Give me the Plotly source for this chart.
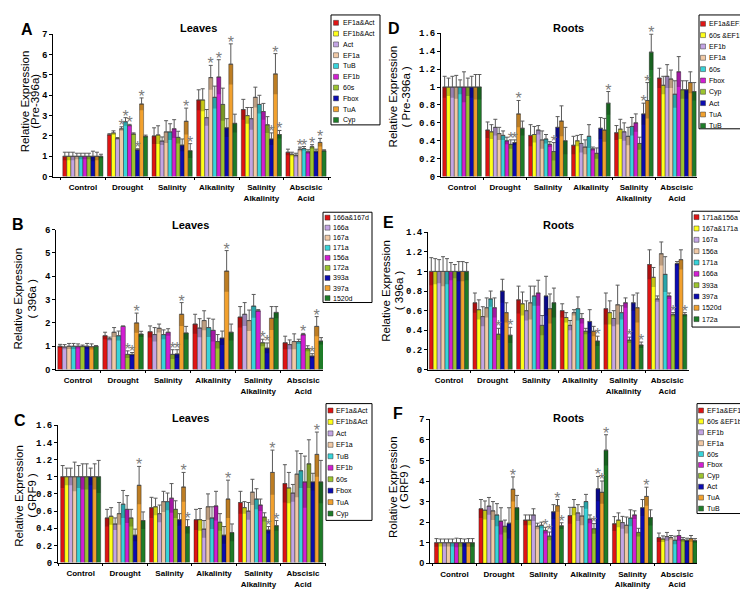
import plotly.graph_objects as go

W, H = 748, 592

conditions = ["Control", "Drought", "Salinity", "Alkalinity",
              "Salinity<br>Alkalinity", "Abscisic<br>Acid"]

# colours
RED = "#e01414"
YEL = "#ffff1a"
LAV = "#c3a5e4"
TAN = "#f1c9a5"
CYA = "#38d4da"
MAG = "#d21ed2"
YGR = "#9cc42e"
BLU = "#0c0cb0"
ORA = "#f2a12e"
DGR = "#1e7d28"

# ---------------- Panel A : Leaves, Pre-396a ----------------
A_names = ["EF1a&Act", "EF1b&Act", "Act", "EF1a", "TuB", "EF1b", "60s", "Fbox", "TuA", "Cyp"]
A_colors = [RED, YEL, LAV, TAN, CYA, MAG, YGR, BLU, ORA, DGR]
A_vals = [
    [1.00, 1.00, 1.00, 1.00, 1.00, 1.00, 1.00, 1.00, 1.00, 1.00],
    [2.06, 2.15, 1.87, 2.35, 2.70, 2.52, 2.10, 1.32, 3.57, 1.98],
    [2.00, 2.05, 1.75, 2.20, 2.20, 2.35, 1.93, 1.55, 2.72, 1.27],
    [3.77, 3.77, 2.90, 4.87, 3.90, 4.90, 3.55, 2.40, 5.53, 2.62],
    [3.30, 3.00, 2.85, 3.90, 3.55, 3.20, 2.55, 1.85, 5.05, 2.07],
    [1.20, 1.10, 1.05, 1.35, 1.38, 1.22, 1.47, 1.25, 1.68, 1.27],
]
A_errs = [
    [0.20, 0.20, 0.20, 0.15, 0.15, 0.15, 0.15, 0.25, 0.20, 0.10],
    [0.05, 0.10, 0.05, 0.10, 0.20, 0.05, 0.05, 0.05, 0.30, 0.06],
    [0.40, 0.45, 0.20, 0.55, 0.40, 0.45, 0.30, 0.30, 0.65, 0.35],
    [0.50, 0.55, 0.40, 0.60, 0.55, 0.85, 0.80, 0.45, 1.00, 0.45],
    [0.50, 0.40, 0.55, 0.50, 0.45, 0.40, 0.40, 0.30, 1.00, 0.20],
    [0.15, 0.10, 0.10, 0.10, 0.10, 0.10, 0.10, 0.10, 0.20, 0.05],
]
A_stars = [[], [3, 4, 5, 7, 8], [8, 9], [3, 5, 8], [7, 8, 9], [3, 4, 6, 8]]

# ---------------- Panel D : Roots, Pre-396a ----------------
D_names = ["EF1a&EF1b", "60s &EF1b", "EF1b", "EF1a", "60s", "Fbox", "Cyp", "Act", "TuA", "TuB"]
D_colors = [RED, YEL, LAV, TAN, CYA, MAG, YGR, BLU, ORA, DGR]
D_vals = [
    [1.00, 1.00, 1.00, 1.00, 1.00, 1.00, 1.00, 1.00, 1.00, 1.00],
    [0.52, 0.50, 0.55, 0.48, 0.46, 0.40, 0.36, 0.38, 0.70, 0.54],
    [0.46, 0.47, 0.52, 0.41, 0.42, 0.36, 0.28, 0.55, 0.62, 0.40],
    [0.35, 0.40, 0.37, 0.33, 0.45, 0.31, 0.26, 0.54, 0.52, 0.82],
    [0.49, 0.53, 0.50, 0.45, 0.56, 0.60, 0.37, 0.70, 0.85, 1.39],
    [1.10, 1.02, 1.12, 1.09, 0.92, 1.17, 0.97, 0.97, 1.05, 0.95],
]
D_errs = [
    [0.12, 0.10, 0.12, 0.13, 0.08, 0.17, 0.10, 0.12, 0.14, 0.14],
    [0.09, 0.08, 0.09, 0.07, 0.05, 0.04, 0.05, 0.03, 0.15, 0.08],
    [0.12, 0.09, 0.05, 0.10, 0.05, 0.03, 0.10, 0.12, 0.17, 0.15],
    [0.10, 0.06, 0.10, 0.08, 0.13, 0.02, 0.06, 0.12, 0.13, 0.13],
    [0.08, 0.11, 0.10, 0.10, 0.10, 0.10, 0.07, 0.12, 0.20, 0.20],
    [0.11, 0.10, 0.13, 0.10, 0.15, 0.17, 0.10, 0.10, 0.12, 0.10],
]
D_stars = [[], [6, 7, 8], [6], [9], [7, 8, 9], []]

# ---------------- Panel B : Leaves, 396a ----------------
B_names = ["166a&167d", "166a", "167a", "171a", "156a", "172a", "393a", "397a", "1520d"]
B_colors = [RED, LAV, TAN, CYA, MAG, YGR, BLU, ORA, DGR]
B_vals = [
    [1.00, 0.97, 1.00, 1.00, 1.00, 1.00, 1.00, 0.98, 1.00],
    [1.45, 1.32, 1.60, 1.45, 1.85, 0.65, 0.65, 2.00, 1.52],
    [1.62, 1.50, 1.77, 1.50, 1.60, 0.65, 0.67, 2.37, 1.57],
    [1.95, 1.78, 2.10, 1.80, 1.68, 1.20, 1.35, 4.22, 1.60],
    [2.25, 2.37, 2.10, 2.72, 2.52, 1.15, 0.92, 2.20, 2.45],
    [1.15, 1.07, 1.20, 1.20, 1.50, 0.90, 0.58, 1.85, 1.22],
]
B_errs = [
    [0.08, 0.10, 0.12, 0.12, 0.10, 0.05, 0.12, 0.12, 0.03],
    [0.15, 0.07, 0.20, 0.20, 0.02, 0.15, 0.08, 0.42, 0.12],
    [0.25, 0.30, 0.18, 0.20, 0.15, 0.20, 0.18, 0.50, 0.28],
    [0.42, 0.40, 0.42, 0.40, 0.48, 0.30, 0.30, 0.88, 0.35],
    [0.45, 0.50, 0.45, 0.50, 0.05, 0.15, 0.22, 0.50, 0.25],
    [0.28, 0.20, 0.33, 0.10, 0.05, 0.12, 0.10, 0.42, 0.15],
]
B_stars = [[], [5, 6, 7], [5, 6, 7], [7], [5, 6], [4, 6, 7]]

# ---------------- Panel E : Roots, 396a ----------------
E_names = ["171a&156a", "167a&171a", "167a", "156a", "171a", "166a", "393a", "397a", "1520d", "172a"]
E_colors = [RED, YEL, LAV, TAN, CYA, MAG, YGR, BLU, ORA, DGR]
E_vals = [
    [1.00, 1.00, 1.00, 1.00, 1.00, 1.00, 1.00, 1.00, 1.00, 1.00],
    [0.68, 0.61, 0.54, 0.63, 0.72, 0.63, 0.36, 0.80, 0.58, 0.35],
    [0.71, 0.67, 0.60, 0.68, 0.75, 0.78, 0.45, 0.75, 0.62, 0.68],
    [0.60, 0.53, 0.45, 0.58, 0.62, 0.52, 0.39, 0.49, 0.39, 0.29],
    [0.62, 0.58, 0.52, 0.66, 0.58, 0.68, 0.30, 0.68, 0.63, 0.25],
    [1.07, 0.94, 0.72, 1.18, 0.97, 0.75, 0.56, 1.08, 1.12, 0.56],
]
E_errs = [
    [0.14, 0.13, 0.12, 0.15, 0.13, 0.09, 0.07, 0.10, 0.10, 0.09],
    [0.10, 0.10, 0.10, 0.10, 0.08, 0.10, 0.06, 0.12, 0.10, 0.08],
    [0.14, 0.12, 0.10, 0.17, 0.10, 0.13, 0.10, 0.20, 0.15, 0.15],
    [0.07, 0.05, 0.05, 0.03, 0.12, 0.05, 0.03, 0.12, 0.05, 0.05],
    [0.16, 0.12, 0.08, 0.20, 0.07, 0.05, 0.03, 0.08, 0.15, 0.03],
    [0.15, 0.10, 0.03, 0.12, 0.18, 0.03, 0.02, 0.02, 0.10, 0.02],
]
E_stars = [[], [6, 9], [], [9], [6, 9], [6, 9]]

# ---------------- Panel C : Leaves, GRF9 ----------------
C_names = ["EF1a&Act", "EF1b&Act", "Act", "EF1a", "TuB", "EF1b", "60s", "Fbox", "TuA", "Cyp"]
C_colors = [RED, YEL, LAV, TAN, CYA, MAG, YGR, BLU, ORA, DGR]
C_vals = [
    [1.00, 1.00, 1.00, 1.00, 1.00, 1.00, 1.00, 1.00, 1.00, 1.00],
    [0.52, 0.54, 0.45, 0.57, 0.68, 0.62, 0.52, 0.32, 0.90, 0.49],
    [0.64, 0.65, 0.57, 0.71, 0.71, 0.75, 0.62, 0.50, 0.88, 0.42],
    [0.50, 0.50, 0.39, 0.65, 0.52, 0.66, 0.47, 0.32, 0.74, 0.35],
    [0.70, 0.64, 0.60, 0.82, 0.74, 0.67, 0.53, 0.38, 1.05, 0.43],
    [0.92, 0.87, 0.81, 1.03, 1.07, 0.94, 1.15, 0.94, 1.26, 0.94],
]
C_errs = [
    [0.13, 0.10, 0.10, 0.17, 0.13, 0.15, 0.15, 0.10, 0.15, 0.19],
    [0.10, 0.10, 0.07, 0.13, 0.16, 0.16, 0.10, 0.07, 0.22, 0.10],
    [0.12, 0.10, 0.10, 0.12, 0.10, 0.17, 0.10, 0.07, 0.17, 0.08],
    [0.12, 0.13, 0.10, 0.15, 0.13, 0.17, 0.10, 0.10, 0.22, 0.10],
    [0.13, 0.07, 0.10, 0.15, 0.12, 0.07, 0.05, 0.04, 0.26, 0.06],
    [0.22, 0.18, 0.10, 0.27, 0.20, 0.30, 0.28, 0.10, 0.26, 0.25],
]
C_stars = [[], [8], [8, 9], [8], [7, 8, 9], [8]]

# ---------------- Panel F : Roots, GRF9 ----------------
F_names = ["EF1a&EF1b", "60s &EF1b", "EF1b", "EF1a", "60s", "Fbox", "Cyp", "Act", "TuA", "TuB"]
F_colors = [RED, YEL, LAV, TAN, CYA, MAG, YGR, BLU, ORA, DGR]
F_vals = [
    [1.00, 1.00, 1.00, 1.00, 1.00, 1.00, 1.00, 1.00, 1.00, 1.00],
    [2.65, 2.58, 2.78, 2.55, 2.35, 2.05, 1.80, 1.95, 3.60, 2.70],
    [2.10, 2.10, 2.35, 1.80, 1.85, 1.60, 1.32, 2.50, 2.80, 1.82],
    [2.32, 2.72, 2.45, 2.30, 3.00, 2.15, 1.68, 3.62, 3.45, 5.50],
    [1.92, 2.10, 1.98, 1.85, 2.20, 2.35, 1.50, 2.70, 3.25, 2.22],
    [1.25, 1.18, 1.30, 1.25, 1.12, 1.35, 1.15, 1.12, 1.20, 1.10],
]
F_errs = [
    [0.20, 0.18, 0.18, 0.18, 0.18, 0.22, 0.20, 0.18, 0.20, 0.20],
    [0.45, 0.45, 0.42, 0.45, 0.55, 0.65, 0.30, 0.75, 0.60, 0.60],
    [0.25, 0.25, 0.30, 0.15, 0.15, 0.15, 0.20, 0.35, 0.30, 0.15],
    [0.40, 0.38, 0.40, 0.45, 0.35, 0.20, 0.25, 0.60, 0.55, 0.75],
    [0.35, 0.35, 0.30, 0.40, 0.40, 0.20, 0.20, 0.40, 0.45, 0.38],
    [0.22, 0.15, 0.20, 0.10, 0.20, 0.25, 0.10, 0.10, 0.15, 0.10],
]
F_stars = [[], [8], [5, 6, 8, 9], [6, 7, 8, 9], [8], []]

# ---------------- panel geometry (pixels) ----------------
PANELS = [
    dict(key="A", names=A_names, colors=A_colors, vals=A_vals, errs=A_errs, stars=A_stars,
         title="Leaves", yt=("Relative Expression", "(Pre-396a)"), yrange=[0, 7], dtick=1, mono=False,
         px=(45, 323), py=(21.7, 166.7), xr=[-0.67, 5.56],
         letter=(19, 16.5), tpos=(190, 15.5), yt1=(17, 90), yt2=(27.5, 90),
         leg=dict(box=(323, 2, 372, 114), y0=10, dy=11.0, sq=328, tx=332.5)),
    dict(key="D", names=D_names, colors=D_colors, vals=D_vals, errs=D_errs, stars=D_stars,
         title="Roots", yt=("Relative Expression", "( Pre-396a )"), yrange=[0, 1.6], dtick=0.2, mono=True,
         px=(433, 689), py=(20.7, 166.7), xr=[-0.49, 5.47],
         letter=(386, 16), tpos=(560, 15), yt1=(385, 85), yt2=(398, 85),
         leg=dict(box=(691, 2, 745, 118), y0=11, dy=11.55, sq=695, tx=699)),
    dict(key="B", names=B_names, colors=B_colors, vals=B_vals, errs=B_errs, stars=B_stars,
         title="Leaves", yt=("Relative Expression", "( 396a )"), yrange=[0, 6], dtick=1, mono=False,
         px=(48, 315), py=(220.7, 363.3), xr=[-0.49, 5.44],
         letter=(10, 215), tpos=(182, 216), yt1=(10, 291), yt2=(24, 291),
         leg=dict(box=(315, 203, 364, 295), y0=208.5, dy=10.25, sq=319.5, tx=323)),
    dict(key="E", names=E_names, colors=E_colors, vals=E_vals, errs=E_errs, stars=E_stars,
         title="Roots", yt=("Relative Expression", "( 396a )"), yrange=[0, 1.4], dtick=0.2, mono=True,
         px=(420, 681), py=(223.3, 363.3), xr=[-0.48, 5.5],
         letter=(380, 213), tpos=(550, 216), yt1=(378, 283), yt2=(390.5, 283),
         leg=dict(box=(684, 202, 733, 320), y0=208, dy=11.55, sq=688.5, tx=692)),
    dict(key="C", names=C_names, colors=C_colors, vals=C_vals, errs=C_errs, stars=C_stars,
         title="Leaves", yt=("Relative Expression", "( GRF9 )"), yrange=[0, 1.6], dtick=0.2, mono=True,
         px=(50, 318), py=(420, 560), xr=[-0.51, 5.52],
         letter=(12, 415), tpos=(182, 413), yt1=(11, 492), yt2=(24, 492),
         leg=dict(box=(318, 398, 364, 517), y0=405, dy=11.67, sq=322.5, tx=326)),
    dict(key="F", names=F_names, colors=F_colors, vals=F_vals, errs=F_errs, stars=F_stars,
         title="Roots", yt=("Rolative Expression", "( GRF9 )"), yrange=[0, 7], dtick=1, mono=False,
         px=(422, 689), py=(414, 560.7), xr=[-0.55, 5.45],
         letter=(390, 408), tpos=(560, 413), yt1=(385, 483), yt2=(396, 483),
         leg=dict(box=(689, 398, 741, 510), y0=405, dy=11.1, sq=693, tx=697)),
]

SANS = "Liberation Sans"
MONO = "Liberation Mono"


def fx(p):
    return p / W


def fy(p):
    return 1 - p / H


fig = go.Figure()
annotations = []
shapes = []
layout = dict(
    width=W, height=H, margin=dict(l=0, r=0, t=0, b=0),
    paper_bgcolor="white", plot_bgcolor="white",
    barmode="group", bargap=0.1, bargroupgap=0,
    scattermode="group", scattergap=0.1,
    showlegend=False, hovermode=False,
    font=dict(family=SANS, color="black"),
)

for k, P in enumerate(PANELS):
    sfx = "" if k == 0 else str(k + 1)
    xa, ya = "x" + sfx, "y" + sfx
    n = len(P["names"])
    for j in range(n):
        v = [row[j] for row in P["vals"]]
        e = [row[j] for row in P["errs"]]
        g = "%s%d" % (P["key"], j)
        fig.add_trace(go.Bar(
            x=conditions, y=v, xaxis=xa, yaxis=ya, offsetgroup=g,
            marker=dict(color=P["colors"][j], line=dict(color="rgba(30,30,30,0.7)", width=0.6)),
            error_y=dict(type="data", symmetric=False, array=e, arrayminus=[0] * len(e),
                         color="#5a5a5a", thickness=1, width=2),
        ))
        fig.add_trace(go.Bar(
            x=conditions, y=e, base=[a - b for a, b in zip(v, e)], xaxis=xa, yaxis=ya, offsetgroup=g,
            marker=dict(color="rgba(0,0,0,0.22)", line=dict(width=0)),
        ))
        sy = [v[c] + e[c] if j in P["stars"][c] else None for c in range(len(conditions))]
        fig.add_trace(go.Scatter(
            x=conditions, y=sy, xaxis=xa, yaxis=ya, offsetgroup=g, orientation="v",
            mode="text", text=["*"] * len(conditions), textposition="middle center",
            textfont=dict(size=16, color="#7c7c7c", family=SANS), cliponaxis=False,
        ))

    layout["xaxis" + sfx] = dict(
        domain=[fx(P["px"][0]), fx(P["px"][1])], anchor=ya, type="category",
        categoryorder="array", categoryarray=conditions, range=P["xr"],
        showline=True, linecolor="black", linewidth=1, showgrid=False, zeroline=False,
        ticks="outside", ticklen=2, tickcolor="black", tickson="boundaries",
        tickangle=0, tickfont=dict(size=8, family=SANS, weight="bold"), ticklabelstandoff=3,
    )
    layout["yaxis" + sfx] = dict(
        domain=[fy(P["py"][1]), fy(P["py"][0])], anchor=xa, range=P["yrange"],
        tick0=0, dtick=P["dtick"], showline=True, linecolor="black", linewidth=1,
        showgrid=False, zeroline=False, ticks="outside", ticklen=3, tickcolor="black",
        tickfont=dict(size=9, family=MONO if P["mono"] else SANS, weight="bold"),
    )

    # panel letter, title, y-title
    annotations.append(dict(x=fx(P["letter"][0]), y=fy(P["letter"][1]), xref="paper", yref="paper",
                            text="<b>%s</b>" % P["key"], showarrow=False, xanchor="center", yanchor="middle",
                            font=dict(size=16, family=SANS)))
    annotations.append(dict(x=fx(P["tpos"][0]), y=fy(P["tpos"][1]), xref="paper", yref="paper",
                            text="<b>%s</b>" % P["title"], showarrow=False, xanchor="center", yanchor="middle",
                            font=dict(size=11, family=SANS)))
    for line, pos in ((P["yt"][0], P["yt1"]), (P["yt"][1], P["yt2"])):
        annotations.append(dict(x=fx(pos[0]), y=fy(pos[1]), xref="paper", yref="paper",
                                text=line, showarrow=False, textangle=-90,
                                xanchor="center", yanchor="middle",
                                font=dict(size=11.5, family=SANS)))

    # legend box
    L = P["leg"]
    bx0, by0, bx1, by1 = L["box"]
    shapes.append(dict(type="rect", xref="paper", yref="paper",
                       x0=fx(bx0), x1=fx(bx1), y0=fy(by1), y1=fy(by0),
                       line=dict(color="black", width=1), fillcolor="white", layer="above"))
    for j, name in enumerate(P["names"]):
        cy = L["y0"] + j * L["dy"]
        shapes.append(dict(type="rect", xref="paper", yref="paper",
                           x0=fx(L["sq"] - 2.5), x1=fx(L["sq"] + 2.5),
                           y0=fy(cy + 2.5), y1=fy(cy - 2.5),
                           line=dict(color="#333333", width=0.5), fillcolor=P["colors"][j], layer="above"))
        annotations.append(dict(x=fx(L["tx"]), y=fy(cy), xref="paper", yref="paper",
                                text=name, showarrow=False, xanchor="left", yanchor="middle",
                                font=dict(size=7, family=SANS)))

layout["annotations"] = annotations
layout["shapes"] = shapes
fig.update_layout(**layout)
fig.write_html("out.html")
